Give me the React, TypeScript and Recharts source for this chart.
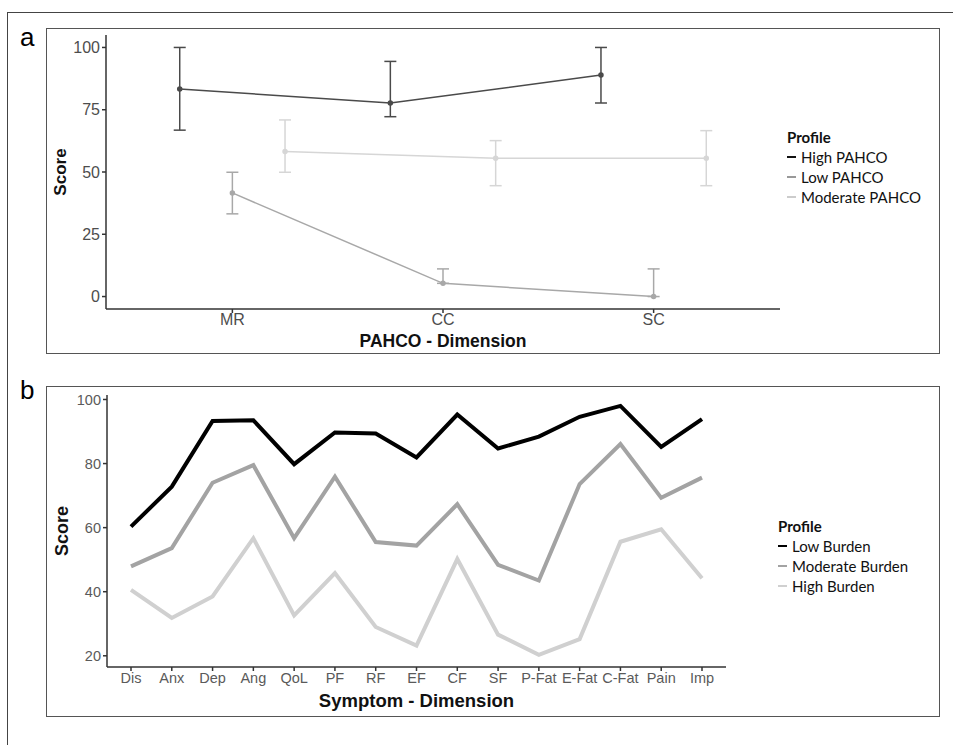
import { LineChart, Line, XAxis, YAxis, ErrorBar, Label } from "recharts";

// Panel a: PAHCO dimensions, mean score with lower / upper bounds
const pahcoDims = ["MR", "CC", "SC"];
const highPahcoMean = [83.3, 77.7, 88.9];
const highPahcoLow = [66.8, 72.2, 77.7];
const highPahcoHigh = [100, 94.4, 100];
const lowPahcoMean = [41.6, 5.3, 0];
const lowPahcoLow = [33.2, 5.3, 0];
const lowPahcoHigh = [49.9, 11.1, 11.1];
const modPahcoMean = [58.2, 55.5, 55.5];
const modPahcoLow = [49.9, 44.5, 44.5];
const modPahcoHigh = [70.9, 62.6, 66.6];
const pahcoTicks = [0, 25, 50, 75, 100];

// Panel b: symptom dimensions
const symptomDims = ["Dis", "Anx", "Dep", "Ang", "QoL", "PF", "RF", "EF", "CF", "SF", "P-Fat", "E-Fat", "C-Fat", "Pain", "Imp"];
const lowBurden = [60.3, 72.8, 93.3, 93.5, 79.8, 89.7, 89.4, 81.9, 95.3, 84.7, 88.4, 94.6, 98.0, 85.2, 93.9];
const moderateBurden = [47.9, 53.6, 74.0, 79.5, 56.7, 75.9, 55.5, 54.4, 67.3, 48.4, 43.5, 73.6, 86.1, 69.3, 75.6];
const highBurden = [40.6, 31.8, 38.5, 56.7, 32.6, 45.8, 29.0, 23.2, 50.2, 26.6, 20.3, 25.2, 55.6, 59.5, 44.2];
const symptomTicks = [20, 40, 60, 80, 100];

const buildDodged = (mean: number[], low: number[], high: number[], shift: number) =>
  mean.map((m, i) => ({ x: i + 1 + shift, y: m, err: [m - low[i], high[i] - m] }));

const pahcoSeries = [
  { name: "High PAHCO", color: "#4a4a4a", key: "#111", data: buildDodged(highPahcoMean, highPahcoLow, highPahcoHigh, -0.25) },
  { name: "Low PAHCO", color: "#a8a8a8", key: "#999", data: buildDodged(lowPahcoMean, lowPahcoLow, lowPahcoHigh, 0) },
  { name: "Moderate PAHCO", color: "#d6d6d6", key: "#ccc", data: buildDodged(modPahcoMean, modPahcoLow, modPahcoHigh, 0.25) },
];

const symptomData = symptomDims.map((name, i) => ({
  name,
  low: lowBurden[i],
  moderate: moderateBurden[i],
  high: highBurden[i],
}));

const burdenSeries = [
  { key: "low", name: "Low Burden", color: "#000000" },
  { key: "moderate", name: "Moderate Burden", color: "#a3a3a3" },
  { key: "high", name: "High Burden", color: "#d0d0d0" },
];

const ARIAL = "'Liberation Sans', Arial, sans-serif";
const LEGEND_FONT = "Lato, 'Open Sans', sans-serif";

const LegendBox = ({ items, left, top }: { items: { name: string; color: string }[]; left: number; top: number }) => (
  <div style={{ position: "absolute", left, top, fontFamily: LEGEND_FONT, fontSize: 15, color: "#111", lineHeight: "20px" }}>
    <div style={{ fontWeight: 700 }}>Profile</div>
    {items.map((it) => (
      <div key={it.name} style={{ display: "flex", alignItems: "center" }}>
        <span style={{ display: "inline-block", width: 9, height: 2, background: it.color, marginRight: 5 }} />
        <span>{it.name}</span>
      </div>
    ))}
  </div>
);

export default function App() {
  return (
    <div style={{ position: "absolute", left: 0, top: 0, width: 953, height: 745, background: "#fff", overflow: "hidden" }}>
      {/* outer frame */}
      <div style={{ position: "absolute", left: 7, top: 12, width: 960, height: 740, borderTop: "1px solid #444", borderLeft: "1px solid #444" }} />

      <div style={{ position: "absolute", left: 20, top: 22, fontFamily: ARIAL, fontSize: 26 }}>a</div>
      <div style={{ position: "absolute", left: 20, top: 375, fontFamily: ARIAL, fontSize: 26 }}>b</div>

      {/* panel a */}
      <div style={{ position: "absolute", left: 46, top: 28, width: 892, height: 324, border: "1.5px solid #555" }}>
        <LineChart width={892} height={324} margin={{ top: 6, right: 159, left: 4, bottom: 6 }}>
          <XAxis
            type="number"
            dataKey="x"
            domain={[0.4, 3.6]}
            ticks={[1, 2, 3]}
            tickFormatter={(v: number) => pahcoDims[v - 1]}
            allowDuplicatedCategory={false}
            height={38}
            tickSize={4}
            tickMargin={1}
            stroke="#333"
            strokeWidth={1.5}
            tick={{ fill: "#4d4d4d", fontSize: 16, fontFamily: ARIAL }}
          >
            <Label value="PAHCO - Dimension" position="insideBottom" offset={0} style={{ fontFamily: ARIAL, fontSize: 17.5, fontWeight: 700, fill: "#111" }} />
          </XAxis>
          <YAxis
            type="number"
            domain={[-5, 105]}
            ticks={pahcoTicks}
            width={55}
            tickSize={4}
            tickMargin={2}
            stroke="#333"
            strokeWidth={1.5}
            tick={{ fill: "#4d4d4d", fontSize: 16, fontFamily: ARIAL }}
          >
            <Label value="Score" angle={-90} position="insideLeft" offset={9} style={{ textAnchor: "middle", fontFamily: ARIAL, fontSize: 17, fontWeight: 700, fill: "#111" }} />
          </YAxis>
          {pahcoSeries.map((s) => (
            <Line
              key={s.name}
              data={s.data}
              dataKey="y"
              name={s.name}
              stroke={s.color}
              strokeWidth={1.5}
              dot={{ r: 2, fill: s.color, stroke: s.color }}
              isAnimationActive={false}
            >
              <ErrorBar dataKey="err" direction="y" width={6} stroke={s.color} strokeWidth={1.5} isAnimationActive={false} />
            </Line>
          ))}
        </LineChart>
      </div>
      <LegendBox items={pahcoSeries.map((s) => ({ name: s.name, color: s.key }))} left={787} top={127} />

      {/* panel b */}
      <div style={{ position: "absolute", left: 46, top: 386, width: 892, height: 329, border: "1.5px solid #555" }}>
        <LineChart width={892} height={329} data={symptomData} margin={{ top: 8, right: 213, left: 5, bottom: 9 }}>
          <XAxis
            dataKey="name"
            padding={{ left: 24, right: 24 }}
            interval={0}
            height={40}
            tickSize={4}
            tickMargin={2}
            stroke="#333"
            strokeWidth={1.5}
            tick={{ fill: "#5a5a5a", fontSize: 14.5, fontFamily: ARIAL }}
          >
            <Label value="Symptom - Dimension" position="insideBottom" offset={0} style={{ fontFamily: ARIAL, fontSize: 18.5, fontWeight: 700, fill: "#111" }} />
          </XAxis>
          <YAxis
            type="number"
            domain={[16.5, 101.4]}
            ticks={symptomTicks}
            width={55}
            tickSize={4}
            tickMargin={2}
            stroke="#333"
            strokeWidth={1.5}
            tick={{ fill: "#5a5a5a", fontSize: 14.5, fontFamily: ARIAL }}
          >
            <Label value="Score" angle={-90} position="insideLeft" offset={10} style={{ textAnchor: "middle", fontFamily: ARIAL, fontSize: 18, fontWeight: 700, fill: "#111" }} />
          </YAxis>
          {burdenSeries.map((s) => (
            <Line
              key={s.key}
              dataKey={s.key}
              name={s.name}
              stroke={s.color}
              strokeWidth={4}
              dot={false}
              type="linear"
              isAnimationActive={false}
            />
          ))}
        </LineChart>
      </div>
      <LegendBox items={burdenSeries} left={778} top={516} />
    </div>
  );
}
